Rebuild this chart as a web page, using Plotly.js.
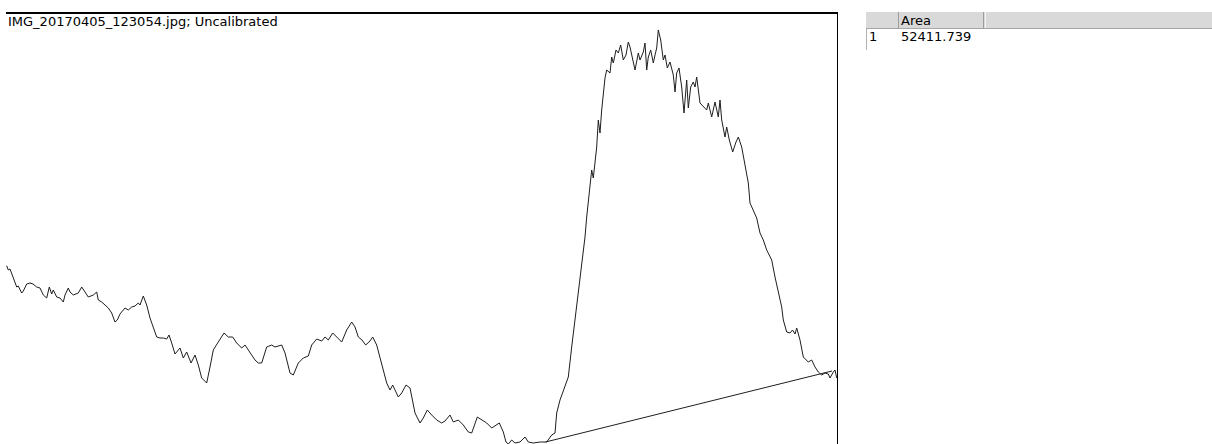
<!DOCTYPE html>
<html>
<head>
<meta charset="utf-8">
<script src="https://cdn.plot.ly/plotly-3.0.1.min.js"></script>
<style>
  html, body { margin: 0; padding: 0; background: #ffffff; }
  #plot { width: 1212px; height: 444px; }
</style>
</head>
<body>
<div id="plot"></div>
<script>
// Lane profile: distance along the lane (pixels) and gray value
const distance = [
  1.7, 3.3, 5, 8.3, 11.7, 13.3, 16.7, 18.3, 21.7, 25, 28, 31.7, 35, 38.3, 41.7, 44.3, 46.7, 48.3,
  51.7, 55, 58.3, 60, 63.3, 65, 68.3, 73.3, 76.7, 80, 83.3, 88.3, 91.7, 93.3, 96.7, 100, 103.3,
  106.7, 110, 112.3, 115, 120, 123.3, 126.7, 130, 133.3, 135, 138.3, 141.7, 145, 148.3, 151.7,
  155, 158.3, 161.7, 164, 166.7, 170, 175, 178.3, 181.7, 186, 190, 193.3, 196.7, 201.7, 205,
  208.3, 213.3, 219, 223.3, 227.7, 231.7, 236.7, 240, 245, 250, 253.3, 256.7, 261.7, 266.7,
  270, 276.7, 280, 285, 288.3, 293.3, 298.3, 303.3, 306.7, 311.7, 316.7, 320, 323.3, 327.7,
  331.7, 336.7, 341.7, 346.7, 350, 353.3, 357, 360.7, 365, 367.7, 371.7, 376.7, 381.7, 385,
  387.7, 393.3, 396.7, 401, 405, 410, 415, 418.3, 422.3, 426.7, 431.7, 436.7, 440, 445, 448.3,
  453.3, 458.3, 463.3, 466.7, 472.3, 476.7, 481.7, 486.7, 490, 494.3, 498.3, 501, 503.3, 506.7,
  510, 515, 520, 523.3, 528.3, 535, 541.7, 546.7, 550, 551.7, 555, 560, 563.3, 566.7, 570, 573.3,
  576.7, 580, 581.7, 584.3, 586.7, 588.3, 591.7, 593.3, 595, 596.7, 600, 601.7, 605, 606.7,
  608.3, 611, 613.3, 615.7, 618.3, 621, 623.3, 625, 626.7, 630, 633.3, 635, 638.3, 640, 641.7,
  643.3, 645.7, 648.3, 650, 651.7, 653.3, 655.7, 658.3, 660, 662.3, 665, 668.3, 670, 671.7, 674,
  676.7, 679, 681.7, 683.3, 685.7, 688.3, 690, 691.7, 695, 698.3, 701.7, 703.3, 706.7, 710,
  713.3, 715, 716.7, 720, 721.7, 724.3, 727.7, 731, 733.3, 736.7, 740, 743.3, 745, 748.3, 751.7,
  755, 758.3, 761.7, 766.7, 770, 773.3, 776.7, 778.3, 781.7, 785, 787.5, 790, 791.7, 795, 798.3,
  803.3, 806.7, 810, 813.3, 816.7, 820, 823.3, 825, 828.3, 830, 831.7
];
const grayValue = [
  178.3, 174, 175, 166, 157, 158, 151, 153, 160, 161, 160, 157, 156, 149, 146, 157, 150, 154,
  147, 146, 142, 149, 156, 152, 149, 151, 157, 152, 147, 149, 152, 144, 142, 139, 136,
  131, 122, 124, 130, 136, 134, 137, 138, 141, 139, 148, 139, 126, 116, 107,
  106, 106, 105, 109, 101, 90, 96, 86, 92, 81, 89, 79, 66, 61, 77,
  94, 102, 111, 107, 107, 101, 96, 99, 91, 84, 81, 81, 97, 99,
  97, 99, 91, 71, 69, 81, 86, 88, 99, 105, 103, 107, 104,
  111, 107, 102, 114, 122, 117, 107, 104, 99, 103, 107, 99, 79, 61,
  54, 59, 47, 51, 59, 56, 31, 21, 26, 34, 29, 24, 21, 23, 29,
  22, 24, 19, 12, 11, 27, 24, 21, 16, 18, 21, 12, 2, 0,
  4, 1, 2, 7, 2, 1, 2, 2, 9, 11, 31, 44, 59, 67, 97, 124,
  151, 184, 207, 227, 251, 274, 266, 297, 324, 311, 334, 366, 374,
  371, 387, 381, 394, 391, 399, 384, 389, 402, 397, 389, 374, 391, 384,
  392, 401, 374, 387, 394, 381, 389, 396, 414, 404, 384, 389,
  376, 382, 369, 352, 371, 376, 357, 331, 364, 336, 357, 362, 357,
  367, 341, 337, 334, 341, 327, 342, 327, 344, 324, 307, 317, 304, 292,
  302, 307, 297, 277, 261, 241, 234, 226, 211, 204, 194, 184, 167, 151,
  137, 124, 112, 111, 114, 110, 116, 104, 87, 82, 84, 77,
  72, 69, 71, 70, 66, 72, 74, 66, 61
];
// Straight baseline drawn under the peak, between the two valleys
const baselineDistance = [540.5, 827];
const baselineValue = [2, 73];

// Measurement results table
const resultColumns = ['Area'];
const resultRows = ['1'];
const resultArea = ['52411.739'];
const plotTitle = 'IMG_20170405_123054.jpg; Uncalibrated';

// Page-pixel helpers for decorations placed around the plot area
const W = 1212, H = 444;
const PL = 5, PR = 837, PT = 12, PB = 444;
const px = x => (x - PL) / (PR - PL);
const py = y => (PB - y) / (PB - PT);
const FONT = 'DejaVu Sans, Lucida Grande, sans-serif';

const traces = [
  {
    type: 'scatter', mode: 'lines',
    x: distance, y: grayValue,
    line: { color: '#1e1e1e', width: 1 },
    hoverinfo: 'skip', showlegend: false
  },
  {
    type: 'scatter', mode: 'lines',
    x: baselineDistance, y: baselineValue,
    line: { color: '#1e1e1e', width: 1 },
    hoverinfo: 'skip', showlegend: false
  }
];

const shapes = [
  // plot frame: heavy top edge and thin right edge
  { type: 'line', xref: 'paper', yref: 'paper', x0: px(6), x1: px(838), y0: py(13), y1: py(13),
    line: { color: '#000000', width: 2 } },
  { type: 'line', xref: 'paper', yref: 'paper', x0: px(837.5), x1: px(837.5), y0: py(12), y1: py(444),
    line: { color: '#000000', width: 1 } },
  // results table header band
  { type: 'rect', xref: 'paper', yref: 'paper', x0: px(866), x1: px(1212), y0: py(29), y1: py(12),
    fillcolor: '#d9d9d9', line: { width: 0 } },
  { type: 'line', xref: 'paper', yref: 'paper', x0: px(866), x1: px(1212), y0: py(28.5), y1: py(28.5),
    line: { color: '#a6a6a6', width: 1 } },
  { type: 'line', xref: 'paper', yref: 'paper', x0: px(898.5), x1: px(898.5), y0: py(12), y1: py(29),
    line: { color: '#9c9c9c', width: 1 } },
  { type: 'line', xref: 'paper', yref: 'paper', x0: px(983.5), x1: px(983.5), y0: py(12), y1: py(29),
    line: { color: '#9c9c9c', width: 1 } },
  { type: 'line', xref: 'paper', yref: 'paper', x0: px(985.5), x1: px(985.5), y0: py(12), y1: py(28),
    line: { color: '#f4f4f4', width: 1 } },
  { type: 'line', xref: 'paper', yref: 'paper', x0: px(866.5), x1: px(866.5), y0: py(29), y1: py(50),
    line: { color: '#b0b0b0', width: 1 } }
];

const annotations = [
  { text: plotTitle, xref: 'paper', yref: 'paper', x: px(6), y: py(22),
    xanchor: 'left', yanchor: 'middle', showarrow: false,
    font: { family: FONT, size: 13, color: '#000000' } },
  { text: resultColumns[0], xref: 'paper', yref: 'paper', x: px(899), y: py(20.5),
    xanchor: 'left', yanchor: 'middle', showarrow: false,
    font: { family: FONT, size: 13, color: '#000000' } },
  { text: resultRows[0], xref: 'paper', yref: 'paper', x: px(867), y: py(37),
    xanchor: 'left', yanchor: 'middle', showarrow: false,
    font: { family: FONT, size: 13, color: '#000000' } },
  { text: resultArea[0], xref: 'paper', yref: 'paper', x: px(899), y: py(37),
    xanchor: 'left', yanchor: 'middle', showarrow: false,
    font: { family: FONT, size: 13, color: '#000000' } }
];

const layout = {
  width: W, height: H,
  margin: { l: PL, r: W - PR, t: PT, b: H - PB, pad: 0, autoexpand: false },
  paper_bgcolor: '#ffffff', plot_bgcolor: '#ffffff',
  xaxis: { range: [0, PR - PL], visible: false, fixedrange: true },
  yaxis: { range: [0, PB - PT], visible: false, fixedrange: true },
  shapes: shapes,
  annotations: annotations,
  showlegend: false
};

Plotly.newPlot('plot', traces, layout, { staticPlot: true, displayModeBar: false });
</script>
</body>
</html>
